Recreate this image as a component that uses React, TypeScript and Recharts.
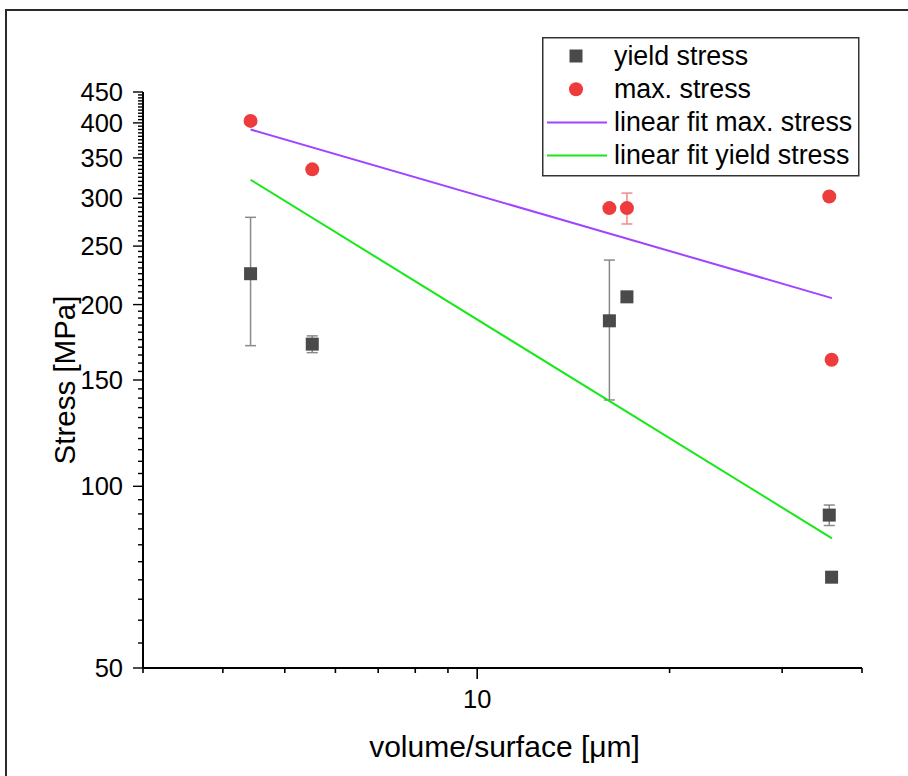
import React from 'react';
import { ComposedChart, Scatter, XAxis, YAxis, ErrorBar, Legend } from 'recharts';

const FONT = '"Liberation Sans", Arial, Helvetica, sans-serif';

// volume/surface ratio of each specimen [µm]
const specimenSize = [4.42, 5.52, 16.1, 17.15, 35.55, 35.85];
// yield stress [MPa] and its standard deviation
const yieldStress = [225, 172, 188, 206, 89.6, 70.7];
const yieldDev = [54, 5.5, 49, 0, 3.5, 0];
// maximum stress [MPa] and its standard deviation
const maxStress = [403, 335, 289, 289, 302, 162];
const maxDev = [0, 0, 0, 17, 0, 0];

// end points of the fitted trend lines
const fitSize = [4.42, 35.9];
const fitMaxStress = [390, 205];
const fitYieldStress = [322, 82];

// axis ticks
const xTicks = [3, 4, 5, 6, 7, 8, 9, 10, 20, 30, 40];
const xLabeled = [10];
const yLabeled = [50, 100, 150, 200, 250, 300, 350, 400, 450];
const yMinorStep = 5;
const yTicks: number[] = [];
for (let v = 50; v <= 450; v += yMinorStep) yTicks.push(v);

const COLORS = {
  yield: '#4a4a4a',
  yieldErr: '#8a8a8a',
  max: '#ee3b3b',
  maxErr: '#f08a8a',
  fitMax: '#a044ff',
  fitYield: '#17e817',
};

const yieldData = specimenSize.map((x, i) => ({ x, y: yieldStress[i], err: yieldDev[i] || null }));
const maxData = specimenSize.map((x, i) => ({ x, y: maxStress[i], err: maxDev[i] || null }));
const fitMaxData = fitSize.map((x, i) => ({ x, y: fitMaxStress[i] }));
const fitYieldData = fitSize.map((x, i) => ({ x, y: fitYieldStress[i] }));

const legendItems = [
  { name: 'yield stress', kind: 'square', color: COLORS.yield },
  { name: 'max. stress', kind: 'circle', color: COLORS.max },
  { name: 'linear fit max. stress', kind: 'line', color: COLORS.fitMax },
  { name: 'linear fit yield stress', kind: 'line', color: COLORS.fitYield },
];

const SquareMark = (props: any) => {
  const { cx, cy } = props;
  if (cx == null || cy == null) return <g />;
  return <rect x={cx - 6.5} y={cy - 6.5} width={13} height={13} fill={COLORS.yield} />;
};

const CircleMark = (props: any) => {
  const { cx, cy } = props;
  if (cx == null || cy == null) return <g />;
  return <circle cx={cx} cy={cy} r={7} fill={COLORS.max} />;
};

const NoMark = () => <g />;

const XTick = (props: any) => {
  const { x, y, payload } = props;
  const major = xLabeled.includes(payload.value);
  return (
    <g>
      <line x1={x} y1={y} x2={x} y2={y + (major ? 11 : 5)} stroke="#000" strokeWidth={1.6} />
      {major && (
        <text x={x} y={y + 40} textAnchor="middle" fontFamily={FONT} fontSize={25.5} fill="#000">
          {payload.value}
        </text>
      )}
    </g>
  );
};

const YTick = (props: any) => {
  const { x, y, payload } = props;
  const major = yLabeled.includes(payload.value);
  return (
    <g>
      <line x1={x - (major ? 10 : 5)} y1={y} x2={x} y2={y} stroke="#000" strokeWidth={1.4} />
      {major && (
        <text x={x - 20} y={y + 9} textAnchor="end" fontFamily={FONT} fontSize={25.5} fill="#000">
          {payload.value}
        </text>
      )}
    </g>
  );
};

const LegendBox = () => (
  <svg width={318} height={140} style={{ display: 'block', overflow: 'visible' }}>
    <rect x={0.75} y={0.75} width={316} height={138} fill="#fff" stroke="#333" strokeWidth={1.5} />
    {legendItems.map((it, i) => {
      const cy = 19 + i * 33.2;
      let mark;
      if (it.kind === 'square') mark = <rect x={34 - 6.5} y={cy - 6.5} width={13} height={13} fill={it.color} />;
      else if (it.kind === 'circle') mark = <circle cx={34} cy={cy} r={7} fill={it.color} />;
      else mark = <line x1={5} y1={cy} x2={65} y2={cy} stroke={it.color} strokeWidth={2} />;
      return (
        <g key={it.name}>
          {mark}
          <text x={72} y={cy + 8.5} fontFamily={FONT} fontSize={26.8} fill="#000">
            {it.name}
          </text>
        </g>
      );
    })}
  </svg>
);

const YTitle = (props: any) => {
  const { viewBox } = props;
  const cy = viewBox.y + viewBox.height / 2;
  return (
    <text
      transform={`translate(${viewBox.x + 75}, ${cy}) rotate(-90)`}
      textAnchor="middle"
      fontFamily={FONT}
      fontSize={29.5}
      fill="#000"
    >
      Stress [MPa]
    </text>
  );
};

const XTitle = (props: any) => {
  const { viewBox } = props;
  return (
    <text
      x={viewBox.x + viewBox.width / 2 + 2}
      y={viewBox.y + 89}
      textAnchor="middle"
      fontFamily={FONT}
      fontSize={30}
      fill="#000"
    >
      volume/surface [μm]
    </text>
  );
};

export default function App() {
  return (
    <div style={{ position: 'absolute', left: 0, top: 0, width: 908, height: 776, background: '#fff', overflow: 'hidden' }}>
      <div
        style={{
          position: 'absolute',
          left: 5,
          top: 9,
          width: 920,
          height: 790,
          borderTop: '2px solid #2a2a2a',
          borderLeft: '2px solid #2a2a2a',
          boxSizing: 'border-box',
        }}
      />
      <ComposedChart width={908} height={776} margin={{ top: 92, right: 46, bottom: 0, left: 0 }}>
        <XAxis
          type="number"
          dataKey="x"
          scale="log"
          domain={[3, 40]}
          allowDataOverflow
          ticks={xTicks}
          interval={0}
          tickLine={false}
          tickSize={0}
          tickMargin={0}
          tick={<XTick />}
          axisLine={{ stroke: '#000', strokeWidth: 2 }}
          height={108}
          label={<XTitle />}
        />
        <YAxis
          type="number"
          dataKey="y"
          scale="log"
          domain={[50, 450]}
          allowDataOverflow
          ticks={yTicks}
          interval={0}
          tickLine={false}
          tickSize={0}
          tickMargin={0}
          tick={<YTick />}
          axisLine={{ stroke: '#000', strokeWidth: 2 }}
          width={143}
          label={<YTitle />}
        />
        <Legend
          layout="vertical"
          align="center"
          verticalAlign="middle"
          content={<LegendBox />}
          wrapperStyle={{ left: 542, top: 37, width: 318, height: 140 }}
        />
        <Scatter
          name="linear fit max. stress"
          data={fitMaxData}
          line={{ stroke: COLORS.fitMax, strokeWidth: 2 }}
          shape={<NoMark />}
          isAnimationActive={false}
        />
        <Scatter
          name="linear fit yield stress"
          data={fitYieldData}
          line={{ stroke: COLORS.fitYield, strokeWidth: 2 }}
          shape={<NoMark />}
          isAnimationActive={false}
        />
        <Scatter name="yield stress" data={yieldData} shape={<SquareMark />} isAnimationActive={false}>
          <ErrorBar dataKey="err" direction="y" width={5.5} stroke={COLORS.yieldErr} strokeWidth={1.5} isAnimationActive={false} />
        </Scatter>
        <Scatter name="max. stress" data={maxData} shape={<CircleMark />} isAnimationActive={false}>
          <ErrorBar dataKey="err" direction="y" width={5.5} stroke={COLORS.maxErr} strokeWidth={1.5} isAnimationActive={false} />
        </Scatter>
      </ComposedChart>
    </div>
  );
}
